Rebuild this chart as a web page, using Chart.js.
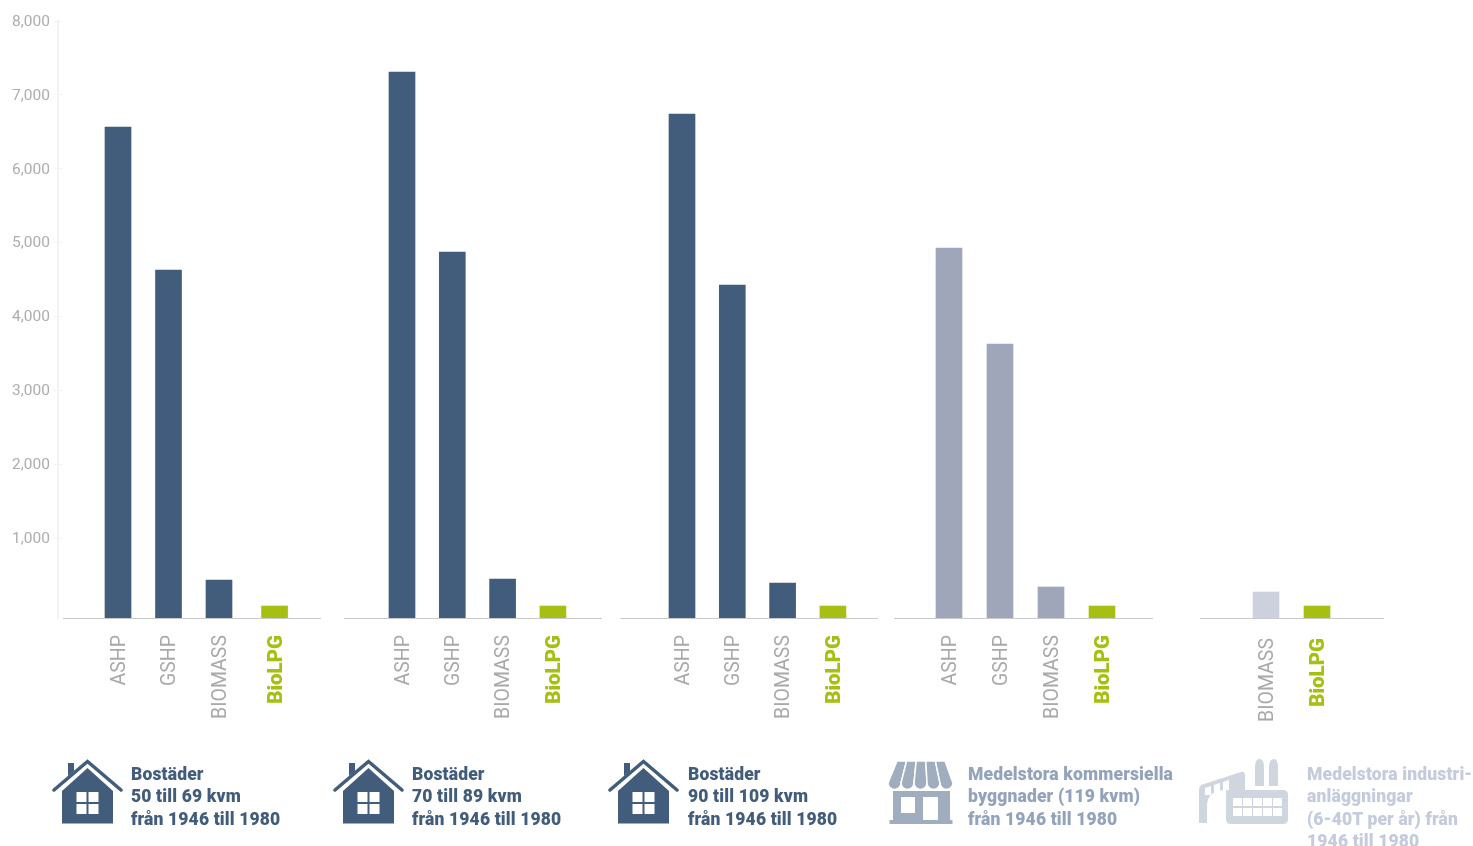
<!DOCTYPE html>
<html lang="sv">

<head>
    <meta charset="UTF-8">
    <title>Kostnad per uppvärmningsteknik</title>
    <script src="https://cdn.jsdelivr.net/npm/chart.js"></script>
    <style>
        html, body { margin: 0; padding: 0; background: #fff; width: 1473px; height: 846px; overflow: hidden; }
        canvas { position: absolute; top: 0; }
        svg { position: absolute; left: 0; top: 0; }
        .caption {
            position: absolute; top: 762.5px; margin: 0;
            font: 900 17.5px/22.5px Roboto, sans-serif; letter-spacing: 0.15px; white-space: nowrap;
        }
    </style>
</head>

<body>
    <canvas id="yAxis"></canvas>
    <canvas id="group1"></canvas>
    <canvas id="group2"></canvas>
    <canvas id="group3"></canvas>
    <canvas id="group4"></canvas>
    <canvas id="group5"></canvas>

    <svg width="1473" height="846">
        <defs>
            <g id="house">
                <polyline points="54,790 87.5,761.5 121,790" fill="none" stroke-width="3.5" stroke-linecap="round" stroke="currentColor"/>
                <path d="M68 763h6v8l-6 5z" fill="currentColor"/>
                <path d="M62 791L87.5 768L113 791V823.5H62z" fill="currentColor"/>
                <path d="M76.5 792h10v10h-10zM88.5 792h10v10h-10zM76.5 804h10v10h-10zM88.5 804h10v10h-10z" fill="#fff"/>
            </g>
        </defs>
        <use href="#house" style="color:#425d7b"/>
        <use href="#house" x="281" style="color:#425d7b"/>
        <use href="#house" x="556" style="color:#425d7b"/>

        <!-- shop -->
        <g fill="#9fadbf" stroke="#fff" stroke-width="1.5">
            <path d="M897 761H906.6L901 783A6.5 6.5 0 0 1 888 783Z"/>
            <path d="M906.6 761H916.2L914 783A6.5 6.5 0 0 1 901 783Z"/>
            <path d="M916.2 761H925.8L927 783A6.5 6.5 0 0 1 914 783Z"/>
            <path d="M925.8 761H935.4L940 783A6.5 6.5 0 0 1 927 783Z"/>
            <path d="M935.4 761H945L953 783A6.5 6.5 0 0 1 940 783Z"/>
        </g>
        <path d="M893 791H950V820H952.5V824H889.5V820H893ZM901 797V813H915V797ZM923 797V820H938V797Z" fill="#9fadbf" fill-rule="evenodd"/>

        <!-- factory -->
        <g fill="#cfd6e0">
            <path d="M1255 768Q1255 759 1259.5 759Q1264 759 1264 768V786H1255ZM1269 768Q1269 759 1273.5 759Q1278 759 1278 768V786H1269Z"/>
            <path d="M1199 823V790Q1199 785 1204 784L1241 772Q1245 771 1245 776V790H1231Q1226 790 1226 795V790Q1207 790 1207 806V823Z"/>
            <path fill-rule="evenodd" d="M1231 790H1283Q1288 790 1288 795V819Q1288 824 1283 824H1231Q1226 824 1226 819V795Q1226 790 1231 790ZM1233 798V806H1242V798ZM1243 798V806H1252V798ZM1253 798V806H1262V798ZM1263 798V806H1272V798ZM1273 798V806H1282V798ZM1233 808V816H1242V808ZM1243 808V816H1252V808ZM1253 808V816H1262V808ZM1263 808V816H1272V808ZM1273 808V816H1282V808Z"/>
        </g>
        <g fill="#fff">
            <path d="M1205 788l6-2v9h-6zM1214 785l6-2v9h-6zM1223 782l6-2v10h-6z"/>
        </g>
    </svg>

    <p class="caption" style="left:131px;color:#425d7b">Bostäder<br>50 till 69 kvm<br>från 1946 till 1980</p>
    <p class="caption" style="left:412px;color:#425d7b">Bostäder<br>70 till 89 kvm<br>från 1946 till 1980</p>
    <p class="caption" style="left:688px;color:#425d7b">Bostäder<br>90 till 109 kvm<br>från 1946 till 1980</p>
    <p class="caption" style="left:968px;color:#93a3bc">Medelstora kommersiella<br>byggnader (119 kvm)<br>från 1946 till 1980</p>
    <p class="caption" style="left:1307px;color:#c3cbdc">Medelstora industri-<br>anläggningar<br>(6-40T per år) från<br>1946 till 1980</p>

<script>
    const categories = ['ASHP', 'GSHP', 'BIOMASS', 'BioLPG']
    const industryCategories = ['BIOMASS', 'BioLPG']

    const bostader50 = [6565, 4628, 431, 79]
    const bostader70 = [7309, 4872, 445, 79]
    const bostader90 = [6741, 4425, 391, 79]
    const kommersiella = [4926, 3627, 337, 79]
    const industri = [269, 79]

    const yTicks = [1000, 2000, 3000, 4000, 5000, 6000, 7000, 8000]

    // all charts share one vertical range so the canvases line up
    const yMin = -83
    const yMax = 8000
    const plotTop = 21
    const plotBottom = 618
    const canvasHeight = 740

    const blue = '#425d7b'
    const green = '#a6bf12'

    function setupCanvas(id, left, width) {
        const el = document.getElementById(id)
        el.style.left = left + 'px'
        el.style.width = width + 'px'
        el.style.height = canvasHeight + 'px'
        return el
    }

    new Chart(setupCanvas('yAxis', 0, 62), {
        type: 'bar',
        data: { labels: [], datasets: [] },
        options: {
            responsive: false,
            animation: false,
            layout: { padding: { top: plotTop, bottom: canvasHeight - plotBottom, left: 0, right: 0 } },
            plugins: { legend: { display: false }, tooltip: { enabled: false } },
            scales: {
                x: { display: false },
                y: {
                    min: yMin,
                    max: yMax,
                    afterFit: scale => { scale.width = 58 },
                    afterBuildTicks: scale => { scale.ticks = yTicks.map(value => ({ value })) },
                    border: { color: '#f2f2f2', width: 2 },
                    grid: { color: '#f2f2f2', tickLength: 4 },
                    ticks: {
                        color: '#adadad',
                        padding: 4,
                        labelOffset: 1,
                        font: { family: 'Roboto', size: 15.5, weight: 400 },
                        callback: value => value.toLocaleString('en-US')
                    }
                }
            }
        }
    })

    function groupChart(id, left, width, firstCentre, spacing, names, values, barColor, labelGap, bioNudge) {
        const xMin = -(firstCentre - left) / spacing
        const points = values.map((v, i) => ({
            x: names[i] === 'BioLPG' ? i + bioNudge : i,
            y: v
        }))
        new Chart(setupCanvas(id, left, width), {
            type: 'bar',
            data: {
                datasets: [{
                    data: points,
                    base: yMin,
                    barThickness: 26,
                    backgroundColor: names.map(n => n === 'BioLPG' ? green : barColor)
                }]
            },
            options: {
                responsive: false,
                animation: false,
                layout: { padding: { top: plotTop, left: 0, right: 0, bottom: 0 } },
                plugins: { legend: { display: false }, tooltip: { enabled: false } },
                scales: {
                    y: { display: false, min: yMin, max: yMax },
                    x: {
                        type: 'linear',
                        offset: false,
                        min: xMin,
                        max: xMin + width / spacing,
                        afterBuildTicks: scale => { scale.ticks = points.map(p => ({ value: p.x })) },
                        afterFit: scale => { scale.height = canvasHeight - plotBottom },
                        border: { color: '#c9c9ce', width: 1 },
                        grid: { display: false, drawTicks: false },
                        ticks: {
                            autoSkip: false,
                            minRotation: 90,
                            maxRotation: 90,
                            padding: labelGap,
                            labelOffset: 2,
                            color: ctx => names[ctx.index] === 'BioLPG' ? green : '#a9a9a9',
                            font: ctx => names[ctx.index] === 'BioLPG'
                                ? { family: 'Roboto', size: 20.5, weight: 900 }
                                : { family: 'Roboto', size: 19.5, weight: 400 },
                            callback: (value, i) => names[i]
                        }
                    }
                }
            }
        })
    }

    groupChart('group1', 63, 258, 118, 50.5, categories, bostader50, blue, 17, 0.1)
    groupChart('group2', 344, 258, 402, 50.3, categories, bostader70, blue, 17, 0)
    groupChart('group3', 620, 258, 682, 50.3, categories, bostader90, blue, 17, 0)
    groupChart('group4', 894, 259, 949, 51, categories, kommersiella, '#a0a6b9', 17, 0)
    groupChart('group5', 1200, 184, 1266, 51, industryCategories, industri, '#cdd0dd', 20, 0)
</script>
</body>

</html>
